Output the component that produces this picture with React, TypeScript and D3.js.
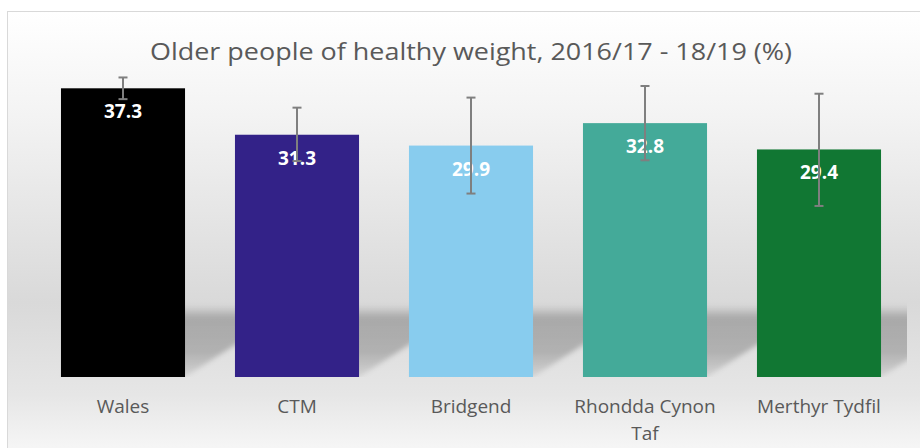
import React, { useEffect, useRef } from 'react';
import * as d3 from 'd3';

const width = 920;
const height = 448;

const categories = ['Wales', 'CTM', 'Bridgend', 'Rhondda Cynon Taf', 'Merthyr Tydfil'];
const values = [37.3, 31.3, 29.9, 32.8, 29.4];
const lowerCI = [35.9, 27.9, 23.7, 28.0, 22.1];
const upperCI = [38.7, 34.8, 36.1, 37.6, 36.6];
const colours = ['#000000', '#332288', '#88CCEE', '#44AA99', '#117733'];
const yDomain = [0, 40];
const title = 'Older people of healthy weight, 2016/17 - 18/19 (%)';

const labelFont = '"Open Sans", "Noto Sans", sans-serif';
const baseY = 377;

function wrap(sel: d3.Selection<SVGTextElement, string, SVGGElement, unknown>, maxWidth: number) {
  sel.each(function (d) {
    const text = d3.select(this);
    const words = d.split(/\s+/);
    const x = text.attr('x');
    let line: string[] = [];
    let tspan = text.text(null).append('tspan').attr('x', x).attr('dy', 0);
    words.forEach((w) => {
      line.push(w);
      tspan.text(line.join(' '));
      if ((tspan.node() as SVGTSpanElement).getComputedTextLength() > maxWidth && line.length > 1) {
        line.pop();
        tspan.text(line.join(' '));
        line = [w];
        tspan = text.append('tspan').attr('x', x).attr('dy', 27).text(w);
      }
    });
  });
}

export default function App() {
  const ref = useRef<SVGSVGElement>(null);

  useEffect(() => {
    const svg = d3.select(ref.current);
    svg.selectAll('*').remove();

    const x = d3.scaleBand<string>()
      .domain(categories)
      .range([36, 906])
      .paddingInner(0.287)
      .paddingOuter(0.1435);

    const y = d3.scaleLinear().domain(yDomain).range([baseY, 67.4]);

    const defs = svg.append('defs');

    // chart area gradient
    const bg = defs.append('linearGradient').attr('id', 'bg').attr('x1', 0).attr('x2', 0).attr('y1', 0).attr('y2', 1);
    [[0, '#ffffff'], [0.24, '#f2f2f2'], [0.62, '#d9d9d9'], [0.815, '#e6e6e6'], [1, '#ffffff']].forEach(([o, c]) => {
      bg.append('stop').attr('offset', o as number).attr('stop-color', c as string);
    });

    const sh = defs.append('linearGradient').attr('id', 'shadowGrad').attr('x1', 0).attr('x2', 0).attr('y1', 0).attr('y2', 1);
    [[0, 0], [0.18, 0.23], [0.65, 0.21], [1, 0.07]].forEach(([o, a]) => {
      sh.append('stop').attr('offset', o).attr('stop-color', '#000').attr('stop-opacity', a);
    });

    defs.append('filter').attr('id', 'blur').attr('x', '-20%').attr('y', '-20%').attr('width', '140%').attr('height', '140%')
      .append('feGaussianBlur').attr('stdDeviation', 2.5);

    defs.append('clipPath').attr('id', 'shadowClip')
      .append('rect').attr('x', 0).attr('y', 0).attr('width', 907).attr('height', baseY);

    svg.append('rect')
      .attr('x', 7.5).attr('y', 11.5)
      .attr('width', 940).attr('height', 470)
      .attr('fill', 'url(#bg)')
      .attr('stroke', '#d9d9d9')
      .attr('stroke-width', 1);

    svg.append('text')
      .attr('x', 471).attr('y', 60)
      .attr('text-anchor', 'middle')
      .attr('textLength', 642)
      .attr('lengthAdjust', 'spacingAndGlyphs')
      .style('font-family', labelFont)
      .style('font-size', '24px')
      .style('fill', '#595959')
      .text(title);

    // perspective shadow behind the bars
    const shadowTop = 305;
    const skew = 112;
    svg.append('g')
      .attr('clip-path', 'url(#shadowClip)')
      .append('g')
      .attr('filter', 'url(#blur)')
      .selectAll('path')
      .data(categories)
      .enter()
      .append('path')
      .attr('fill', 'url(#shadowGrad)')
      .attr('d', (d) => {
        const x0 = x(d) as number;
        const x1 = x0 + x.bandwidth();
        return `M${x0},${baseY}L${x1},${baseY}L${x1 + skew},${shadowTop}L${x0 + skew},${shadowTop}Z`;
      });

    svg.append('g')
      .selectAll('rect')
      .data(categories)
      .enter()
      .append('rect')
      .attr('x', (d) => x(d) as number)
      .attr('y', (d, i) => y(values[i]))
      .attr('width', x.bandwidth())
      .attr('height', (d, i) => baseY - y(values[i]))
      .attr('fill', (d, i) => colours[i]);

    svg.append('g')
      .selectAll('text')
      .data(categories)
      .enter()
      .append('text')
      .attr('x', (d) => (x(d) as number) + x.bandwidth() / 2)
      .attr('y', (d, i) => y(values[i]) + 30)
      .attr('text-anchor', 'middle')
      .style('font-family', labelFont)
      .style('font-weight', 'bold')
      .style('font-size', '19px')
      .style('fill', '#ffffff')
      .text((d, i) => values[i].toFixed(1));

    // error bars
    const err = svg.append('g')
      .attr('stroke', '#7f7f7f')
      .attr('stroke-width', 2)
      .selectAll('g')
      .data(categories)
      .enter()
      .append('g')
      .attr('transform', (d) => `translate(${(x(d) as number) + x.bandwidth() / 2},0)`);
    err.append('line')
      .attr('y1', (d, i) => y(upperCI[i]))
      .attr('y2', (d, i) => y(lowerCI[i]));
    err.append('line')
      .attr('x1', -4.5).attr('x2', 4.5)
      .attr('y1', (d, i) => y(upperCI[i]))
      .attr('y2', (d, i) => y(upperCI[i]));
    err.append('line')
      .attr('x1', -4.5).attr('x2', 4.5)
      .attr('y1', (d, i) => y(lowerCI[i]))
      .attr('y2', (d, i) => y(lowerCI[i]));

    // category labels
    svg.append('g')
      .selectAll('text')
      .data(categories)
      .enter()
      .append('text')
      .attr('x', (d) => (x(d) as number) + x.bandwidth() / 2)
      .attr('y', 413)
      .attr('text-anchor', 'middle')
      .style('font-family', labelFont)
      .style('font-size', '19px')
      .style('fill', '#595959')
      .text((d) => d)
      .call(wrap as any, x.step() - 14);
  }, []);

  return (
    <div style={{ position: 'fixed', left: 0, top: 0 }}>
      <svg ref={ref} width={width} height={height} style={{ display: 'block' }} />
    </div>
  );
}
